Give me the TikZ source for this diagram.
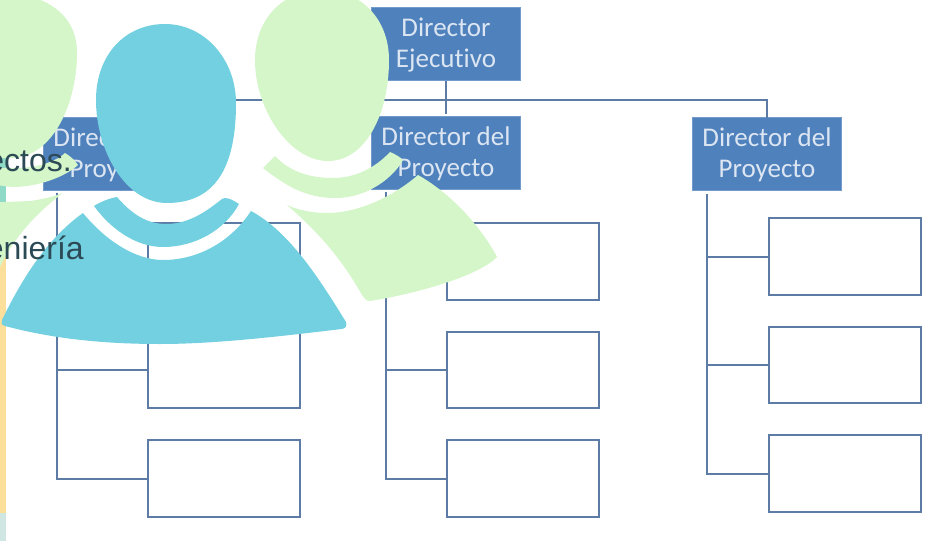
\documentclass[tikz,border=0pt]{standalone}
\usepackage{fontspec}
\setmainfont{Liberation Sans}
\newfontfamily\boxfont[Ligatures=NoCommon]{Carlito}
\usetikzlibrary{positioning,calc}
\definecolor{boxblue}{RGB}{79, 129, 189}
\definecolor{boxtext}{RGB}{220, 230, 242}
\definecolor{linkblue}{RGB}{92, 124, 166}
\definecolor{figblue}{RGB}{114, 208, 224}
\definecolor{figgreen}{RGB}{212, 246, 200}
\definecolor{overtext}{RGB}{44, 74, 85}
\definecolor{stripyellow}{RGB}{253, 223, 156}
\definecolor{stripteal}{RGB}{143, 217, 199}
\definecolor{strippale}{RGB}{207, 230, 226}

\begin{document}
\begin{tikzpicture}[
  x=1pt, y=-1pt,
  node distance=32pt and 1cm,
  dirbox/.style={rectangle, fill=boxblue, draw=boxblue!80!white, line width=0.8pt, text=boxtext, align=center, minimum width=149pt, minimum height=73pt, outer sep=0pt, text height=53pt, text depth=6pt, font=\boxfont\fontsize{27}{31}\selectfont},
  leaf/.style={rectangle, draw=linkblue, line width=2.4pt, fill=white, minimum width=152pt, minimum height=76.5pt, outer sep=0pt},
  link/.style={draw=linkblue, line width=2pt},
  overlay text/.style={text=overtext, inner sep=0pt, font=\fontsize{32}{38}\selectfont}
]
\clip (0,0) rectangle (937,541);
\fill[white] (0,0) rectangle (937,541);

% Strip at the left edge
\fill[stripteal] (0,150) rectangle (6,203);
\fill[stripyellow] (0,203) rectangle (6,513);
\fill[strippale] (0,513) rectangle (6,541);

% Directors
\node[dirbox] (chief) at (446,44) {Director\\Ejecutivo};
\node[dirbox] (dirleft) at (118,154) {Director del\\Proyecto};
\node[dirbox] (dirmid) at (446,153) {Director del\\Proyecto};
\node[dirbox] (dirright) at (767,154) {Director del\\Proyecto};

% Empty boxes
\node[leaf] (left1) at (224,261.5) {};
\node[leaf, below=of left1] (left2) {};
\node[leaf, below=of left2] (left3) {};
\node[leaf] (mid1) at (523,261.5) {};
\node[leaf, below=of mid1] (mid2) {};
\node[leaf, below=of mid2] (mid3) {};
\node[leaf] (right1) at (845,256.5) {};
\node[leaf, below=of right1] (right2) {};
\node[leaf, below=of right2] (right3) {};

% Connectors
\coordinate (busy) at (446,100);
\draw[link] (chief.south) -- ++(0,33);
\draw[link] (dirleft.north) |- (busy) -| (dirright.north);
\coordinate (leftfoot) at ($(dirleft.south west)+(13,2)$);
\coordinate (midfoot) at ($(dirmid.south west)+(14,2)$);
\coordinate (rightfoot) at ($(dirright.south west)+(14,3)$);
\draw[link] (leftfoot) |- (left3.west);
\draw[link] (left1.west) -| (leftfoot);
\draw[link] (left2.west) -| (leftfoot);
\draw[link] (midfoot) |- (mid3.west);
\draw[link] (mid1.west) -| (midfoot);
\draw[link] (mid2.west) -| (midfoot);
\draw[link] (rightfoot) |- (right3.west);
\draw[link] (right1.west) -| (rightfoot);
\draw[link] (right2.west) -| (rightfoot);

% Green figure on the left
\fill[figgreen] (-20,-10) .. controls (40,-10) and (77,10) .. (77,53) .. controls (77,100) and (55,158) .. (10,158) -- (-20,158) -- cycle;
\fill[figgreen] (-20,168) -- (15,168) .. controls (40,168) and (58,160) .. (65,153) .. controls (70,156) and (75,160) .. (78,165) .. controls (65,177) and (38,187) .. (12,187) -- (-20,183) -- cycle;
\fill[figgreen] (-20,203) -- (30,201) .. controls (45,199) and (55,196) .. (63,193) .. controls (40,210) and (15,235) .. (0,267) -- (-20,267) -- cycle;

% Green figure on the right
\fill[figgreen] (322,-10) .. controls (362,-10) and (389,20) .. (389,60) .. controls (389,115) and (365,161) .. (328,161) .. controls (290,161) and (255,110) .. (255,60) .. controls (255,20) and (282,-10) .. (322,-10) -- cycle;
\fill[figgreen] (263,168) -- (275,156) .. controls (290,172) and (310,178) .. (333,178) .. controls (355,178) and (375,168) .. (390,152) .. controls (395,154) and (400,157) .. (403,160) .. controls (395,175) and (370,198) .. (335,198) .. controls (305,198) and (285,185) .. (263,168) -- cycle;
\fill[figgreen] (287,205) .. controls (300,211) and (315,213) .. (327,213) .. controls (360,213) and (395,195) .. (418,175) .. controls (450,193) and (480,225) .. (497,257) .. controls (480,275) and (420,293) .. (370,301) .. controls (366,301) and (365,299) .. (362,295) .. controls (345,265) and (325,238) .. (287,205) -- cycle;

% Blue figure
\fill[figblue] (165,24) .. controls (205,24) and (236,60) .. (236,103) .. controls (236,160) and (220,203) .. (167,203) .. controls (125,203) and (96,150) .. (96,100) .. controls (96,55) and (125,24) .. (165,24) -- cycle;
\fill[figblue] (94,206) .. controls (100,202) and (110,198) .. (117,197) .. controls (130,212) and (145,224) .. (166,224) .. controls (190,224) and (208,210) .. (222,199) .. controls (225,197) and (230,198) .. (239,204) .. controls (225,230) and (195,247) .. (163,247) .. controls (135,247) and (110,228) .. (94,206) -- cycle;
\fill[figblue] (83,213) .. controls (105,240) and (135,260) .. (163,260) .. controls (200,260) and (232,240) .. (251,211) .. controls (290,232) and (320,280) .. (346,322) .. controls (347,326) and (346,328) .. (342,329) .. controls (290,335) and (220,344) .. (160,344) .. controls (100,344) and (50,338) .. (5,326) .. controls (1,325) and (1,322) .. (2,320) .. controls (20,283) and (45,240) .. (83,213) -- cycle;

% Cut-off text
\node[overlay text, anchor=base east] (projects) at (72,171) {ectos.};
\node[overlay text, anchor=base east] (engineering) at (84,259) {eniería};
\end{tikzpicture}
\end{document}
